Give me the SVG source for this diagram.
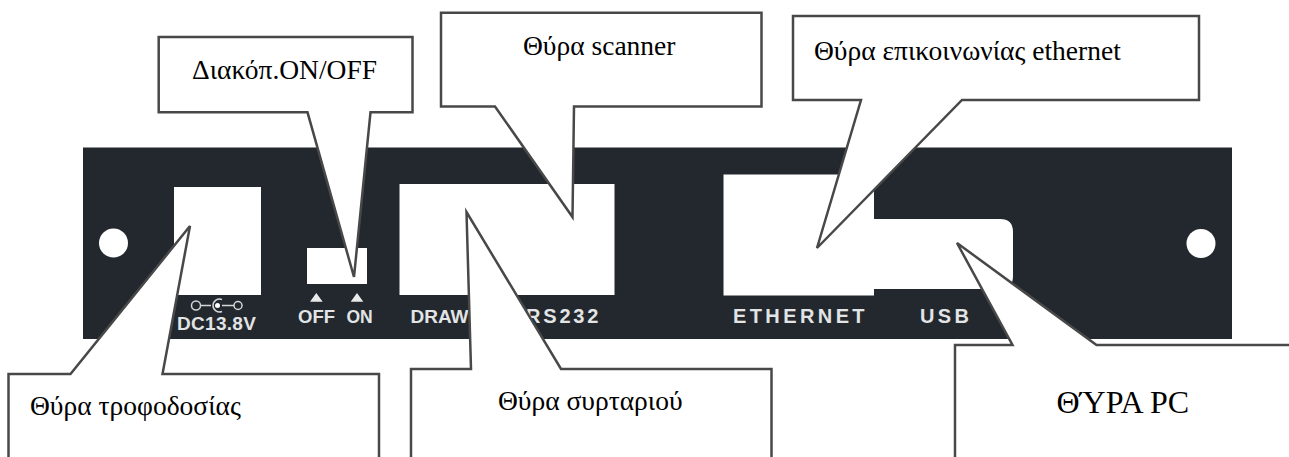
<svg xmlns="http://www.w3.org/2000/svg" width="1289" height="457" viewBox="0 0 1289 457">
<style>
.c{fill:#fff;stroke:#484848;stroke-width:2.500;stroke-linejoin:miter}
.t{font-family:"Liberation Serif",serif;font-size:27.500px;fill:#000}
.p{font-family:"Liberation Sans",Arial,sans-serif;font-weight:bold;font-size:20px;fill:#e2e4e5}
.o{fill:#fff}
</style>
<rect width="1289" height="457" fill="#fff"/>
<g id="panel">
<rect x="83" y="147.500" width="1149" height="191.500" fill="#22282e"/>
<circle class="o" cx="113.500" cy="243" r="14.500"/>
<circle class="o" cx="1201" cy="243.500" r="14.500"/>
<rect class="o" x="174" y="187" width="87" height="108"/>
<rect class="o" x="307" y="248" width="60" height="36"/>
<rect class="o" x="399.500" y="184" width="215" height="111"/>
<path class="o" d="M723.500 174.500H874V219H1000Q1013 219 1013 232V276Q1013 289 1000 289H874V295.500H723.500Z"/>
<text class="p" x="177" y="329.500" style="font-size:19px" letter-spacing="0.300">DC13.8V</text>
<g fill="none" stroke="#d4d7d8" stroke-width="1.500">
<circle cx="196" cy="305.500" r="4.500"/><circle cx="238" cy="305.500" r="4"/>
<path d="M200.500 305.500H211M222 305.500H234M222 299.500A6.500 6.500 0 1 0 222 311.500"/>
</g>
<circle cx="217.500" cy="305.500" r="2.500" fill="#fff"/>
<path d="M310 301.700L316.300 293L322.700 301.700ZM350.700 301.700L357 293L363.300 301.700Z" fill="#e8eaea"/>
<text class="p" x="298" y="322.500" style="font-size:18.500px">OFF</text>
<text class="p" x="346.500" y="322.500" style="font-size:17.500px">ON</text>
<text class="p" x="410.500" y="323" style="font-size:19px">DRAW</text>
<text class="p" x="526" y="323" letter-spacing="2.800">RS232</text>
<text class="p" x="733" y="323" letter-spacing="3.400">ETHERNET</text>
<text class="p" x="920" y="323" letter-spacing="3.400">USB</text>
</g>
<g id="connectors"></g>
<g id="node-power"><path class="c" d="M8.500 460V374H70.500L190 226L162.500 374H379V460"/><text class="t" x="30" y="415">Θύρα τροφοδοσίας</text></g>
<g id="node-drawer"><path class="c" d="M411 460V369H471L466.500 212L561 369H771.500V460"/><text class="t" x="498" y="410">Θύρα συρταριού</text></g>
<g id="node-pc"><path class="c" d="M955 460V345H1012.500L957 243L1096.500 345H1290"/><text class="t" x="1056.500" y="413" style="font-size:32px">ΘΎΡΑ PC</text></g>
<g id="node-switch"><path class="c" d="M158.700 37H412.500V112.300H370.500L354 277L307.500 112.300H158.700Z"/><text class="t" x="192" y="78.500">Διακόπ.ON/OFF</text></g>
<g id="node-scanner"><path class="c" d="M441 12.700H761.500V106.500H574L572.500 217L495 106.500H441Z"/><text class="t" x="523" y="55">Θύρα scanner</text></g>
<g id="node-ethernet"><path class="c" d="M793 16H1199V100H962L817 248L861 100H793Z"/><text class="t" x="814" y="59.500">Θύρα επικοινωνίας ethernet</text></g>
</svg>
